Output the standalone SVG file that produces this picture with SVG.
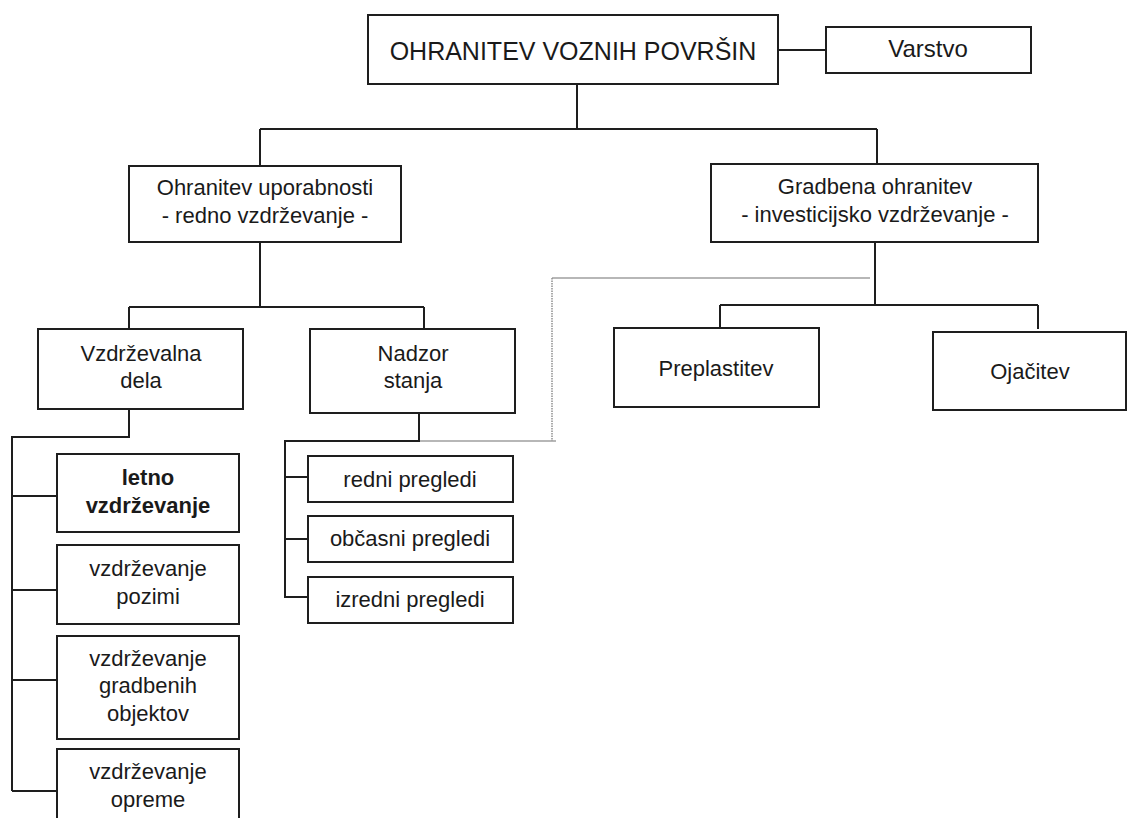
<svg xmlns="http://www.w3.org/2000/svg" width="1127" height="818" viewBox="0 0 1127 818">
<style>
.box{fill:#fff;stroke:#1e1e1e;stroke-width:2}
.ln{fill:none;stroke:#1e1e1e;stroke-width:2}
.gr{fill:none;stroke:#a0a0a0;stroke-width:1.5}
.dt{fill:none;stroke:#909090;stroke-width:1.5;stroke-dasharray:1.5 1}
text{font-family:"Liberation Sans",Arial,sans-serif;font-size:22px;fill:#1a1a1a;text-anchor:middle}
.t1{font-size:25px}
.t2{font-size:24px}
.b{font-weight:bold}
</style>
<rect width="1127" height="818" fill="#fff"/>
<g id="connectors">
<path class="ln" d="M577 84V129M260 129H877M260 129V166M877 129V164"/>
<path class="ln" d="M778 50H826"/>
<path class="ln" d="M260 242V307M129 307H424M129 307V329M424 307V329"/>
<path class="ln" d="M875 242V305M720 305H1038M720 305V328M1038 305V329"/>
<path class="gr" d="M552 278H870M419 441H556"/>
<path class="dt" d="M552 278V441"/>
<path class="ln" d="M129 409V437H12V791M12 496H57M12 590H57M12 680H57M12 791H57"/>
<path class="ln" d="M419 413V441H285V597H308M285 477H308M285 539H308"/>
</g>
<g id="n-root"><rect class="box" x="368" y="15" width="410" height="69"/><text class="t1" x="573" y="60">OHRANITEV VOZNIH POVRŠIN</text></g>
<g id="n-varstvo"><rect class="box" x="826" y="27" width="205" height="46"/><text class="t2" x="928" y="57">Varstvo</text></g>
<g id="n-uporabnost"><rect class="box" x="129" y="166" width="272" height="76"/><text x="265" y="195">Ohranitev uporabnosti</text><text x="265" y="223">- redno vzdrževanje -</text></g>
<g id="n-gradbena"><rect class="box" x="711" y="164" width="327" height="78"/><text x="875" y="194">Gradbena ohranitev</text><text x="875" y="222">- investicijsko vzdrževanje -</text></g>
<g id="n-vzdrzevalna"><rect class="box" x="38" y="329" width="205" height="80"/><text x="141" y="361">Vzdrževalna</text><text x="141" y="388">dela</text></g>
<g id="n-nadzor"><rect class="box" x="310" y="329" width="205" height="84"/><text x="413" y="361">Nadzor</text><text x="413" y="388">stanja</text></g>
<g id="n-preplastitev"><rect class="box" x="614" y="328" width="205" height="79"/><text x="716" y="376">Preplastitev</text></g>
<g id="n-ojacitev"><rect class="box" x="933" y="332" width="193" height="78"/><text x="1030" y="379">Ojačitev</text></g>
<g id="n-letno"><rect class="box" x="57" y="454" width="182" height="78"/><text class="b" x="148" y="485">letno</text><text class="b" x="148" y="513">vzdrževanje</text></g>
<g id="n-pozimi"><rect class="box" x="57" y="545" width="182" height="79"/><text x="148" y="576">vzdrževanje</text><text x="148" y="604">pozimi</text></g>
<g id="n-gradbenih"><rect class="box" x="57" y="636" width="182" height="103"/><text x="148" y="666">vzdrževanje</text><text x="148" y="693">gradbenih</text><text x="148" y="721">objektov</text></g>
<g id="n-opreme"><rect class="box" x="57" y="749" width="182" height="80"/><text x="148" y="779">vzdrževanje</text><text x="148" y="807">opreme</text></g>
<g id="n-redni"><rect class="box" x="308" y="456" width="205" height="46"/><text x="410" y="487">redni pregledi</text></g>
<g id="n-obcasni"><rect class="box" x="308" y="516" width="205" height="46"/><text x="410" y="546">občasni pregledi</text></g>
<g id="n-izredni"><rect class="box" x="308" y="577" width="205" height="46"/><text x="410" y="607">izredni pregledi</text></g>
</svg>
